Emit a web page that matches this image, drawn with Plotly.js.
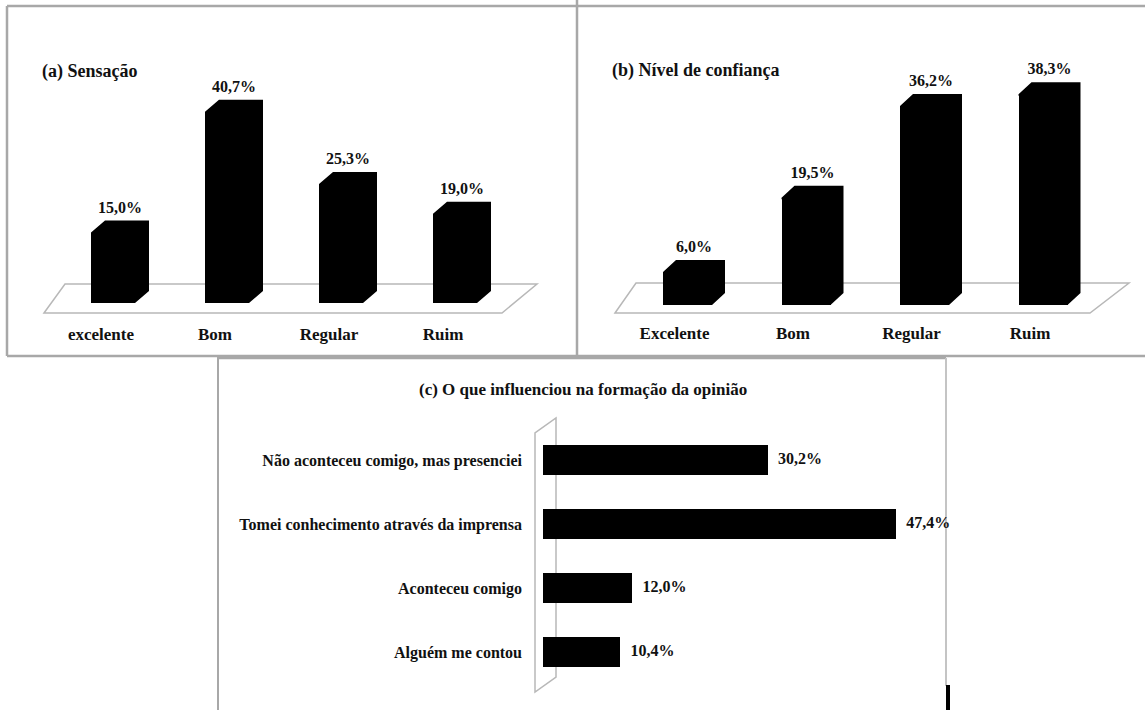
<!DOCTYPE html>
<html>
<head>
<meta charset="utf-8">
<script src="https://cdn.plot.ly/plotly-3.0.1.min.js"></script>
<style>
  html, body { margin: 0; padding: 0; background: #fff; }
  #chart { width: 1145px; height: 710px; }
</style>
</head>
<body>
<div id="chart"></div>
<script>
// ---------------- data ----------------
const titleA = '(a) Sensação';
const catsA = ['excelente', 'Bom', 'Regular', 'Ruim'];
const valsA = [15.0, 40.7, 25.3, 19.0];

const titleB = '(b) Nível de confiança';
const catsB = ['Excelente', 'Bom', 'Regular', 'Ruim'];
const valsB = [6.0, 19.5, 36.2, 38.3];

const titleC = '(c) O que influenciou na formação da opinião';
const catsC = ['Não aconteceu comigo, mas presenciei',
               'Tomei conhecimento através da imprensa',
               'Aconteceu comigo',
               'Alguém me contou'];
const valsC = [30.2, 47.4, 12.0, 10.4];

// ---------------- helpers ----------------
const W = 1145, H = 710;
const px = x => x / W;
const py = y => 1 - y / H;
const fmt = v => v.toFixed(1).replace('.', ',') + '%';
const FONT = 'Liberation Serif';
const idx = arr => arr.map((_, i) => i);

// geometry of each panel (pixels)
const G = {
  a: { x0: 56, x1: 512, base: 303, pxPer: 4.7, ymax: 45, w: 44, dx: 14, dy: 12, labShift: -12, standoff: 19 },
  b: { x0: 628.25, x1: 1102.25, base: 305, pxPer: 5.5, ymax: 45, w: 49, dx: 13, dy: 12, labShift: -13, standoff: 16 },
};
function setup(g) {
  g.unit = (g.x1 - g.x0) / 4;
  g.top = g.base - g.ymax * g.pxPer;
  g.wu = g.w / g.unit;
  g.dxu = g.dx / g.unit;
  g.dyu = g.dy / g.pxPer;
  g.ovx = 1.5 / g.unit;   // 1.5 px overlap to hide seams
  g.ovy = 1.5 / g.pxPer;
  return g;
}
setup(G.a); setup(G.b);

// 3D extrusion (top + side faces) derived from bar values
function extrude(vals, g) {
  const xs = [], ys = [];
  vals.forEach((v, i) => {
    const l = i - g.wu / 2, r = i + g.wu / 2;
    xs.push(r - g.ovx, r, r + g.dxu, r + g.dxu, l + g.dxu, l, l, r - g.ovx, null);
    ys.push(0, 0, g.dyu, v + g.dyu, v + g.dyu, v, v - g.ovy, v - g.ovy, null);
  });
  return { xs, ys };
}

function verticalTraces(cats, vals, g, xa, ya) {
  const e = extrude(vals, g);
  return [
    { type: 'bar', x: idx(vals), y: vals, width: g.wu, marker: { color: '#000', line: { width: 0 } },
      xaxis: xa, yaxis: ya, showlegend: false, hoverinfo: 'skip' },
    { type: 'scatter', mode: 'lines', x: e.xs, y: e.ys, fill: 'toself',
      fillcolor: '#000', line: { width: 0, color: '#000' }, xaxis: xa, yaxis: ya,
      hoverinfo: 'skip', showlegend: false },
    { type: 'scatter', mode: 'text', x: idx(vals).map(i => i + g.dxu / 2),
      y: vals.map(v => v + g.dyu + 4 / g.pxPer), text: vals.map(fmt),
      textposition: 'top center', textfont: { family: FONT, size: 16, color: '#111', weight: 'bold' },
      cliponaxis: false, xaxis: xa, yaxis: ya, showlegend: false, hoverinfo: 'skip' }
  ];
}

function vxAxis(cats, g) {
  return {
    domain: [px(g.x0), px(g.x1)], range: [-0.5, 3.5],
    showgrid: false, zeroline: false, showline: false, ticks: '',
    tickvals: idx(cats).map(i => i + g.labShift / g.unit), ticktext: cats,
    tickfont: { family: FONT, size: 17, color: '#111', weight: 'bold' },
    ticklabelstandoff: g.standoff, fixedrange: true
  };
}
function vyAxis(g) {
  return {
    domain: [py(g.base), py(g.top)], range: [0, g.ymax], visible: false, fixedrange: true
  };
}

// panel C geometry
const C = { x0: 543, pxPer: 7.45, xmax: 50, yTop: 428, yBot: 684, w: 0.47, gap: 10 };

const traces = [
  ...verticalTraces(catsA, valsA, G.a, 'x', 'y'),
  ...verticalTraces(catsB, valsB, G.b, 'x2', 'y2'),
  { type: 'bar', orientation: 'h', y: idx(valsC), x: valsC, width: C.w,
    marker: { color: '#000', line: { width: 0 } }, xaxis: 'x3', yaxis: 'y3',
    showlegend: false, hoverinfo: 'skip' },
  { type: 'scatter', mode: 'text', y: idx(valsC), x: valsC.map(v => v + C.gap / C.pxPer),
    text: valsC.map(fmt), textposition: 'middle right',
    textfont: { family: FONT, size: 16, color: '#111', weight: 'bold' },
    cliponaxis: false, xaxis: 'x3', yaxis: 'y3', showlegend: false, hoverinfo: 'skip' }
];

// decorative shapes (pixel geometry converted to paper)
const grey = '#a8a8a8';
function line(x0, y0, x1, y1, color, width) {
  return { type: 'line', xref: 'paper', yref: 'paper', x0: px(x0), y0: py(y0), x1: px(x1), y1: py(y1),
           line: { color: color, width: width }, layer: 'below' };
}
function poly(pts, fill, color, width) {
  const d = pts.map((p, i) => (i ? 'L' : 'M') + px(p[0]) + ',' + py(p[1])).join(' ') + ' Z';
  return { type: 'path', xref: 'paper', yref: 'paper', path: d, fillcolor: fill,
           line: { color: color, width: width }, layer: 'below' };
}

const shapes = [
  line(7, 6, 1145, 6, grey, 2.5),
  line(7, 6, 7, 356, grey, 2.5),
  line(577, 0, 577, 356, grey, 2.5),
  line(7, 356, 1145, 356, grey, 2.5),
  line(218, 357, 218, 710, grey, 2),
  line(218, 358, 946, 358, grey, 2.5),
  line(946, 358, 946, 686, '#c4c4c4', 2),
  line(948, 685, 948, 710, '#000', 4),
  // floors
  poly([[44, 313], [65, 284], [537, 284], [502, 313]], '#fff', '#b8b8b8', 1.5),
  poly([[615, 313], [636, 283], [1129, 283], [1090, 313]], '#fff', '#b8b8b8', 1.5),
  // wall of panel c
  poly([[535, 692], [535, 433], [556, 418], [556, 677]], '#fff', '#b8b8b8', 1.5)
];

const annotations = [
  { text: titleA, xref: 'paper', yref: 'paper', x: px(40), y: py(72), xanchor: 'left', yanchor: 'middle',
    showarrow: false, font: { family: FONT, size: 18, color: '#111', weight: 'bold' } },
  { text: titleB, xref: 'paper', yref: 'paper', x: px(610), y: py(71), xanchor: 'left', yanchor: 'middle',
    showarrow: false, font: { family: FONT, size: 18, color: '#111', weight: 'bold' } },
  { text: titleC, xref: 'paper', yref: 'paper', x: px(583), y: py(389), xanchor: 'center', yanchor: 'middle',
    showarrow: false, font: { family: FONT, size: 17, color: '#111', weight: 'bold' } }
];

const layout = {
  width: W, height: H, margin: { l: 0, r: 0, t: 0, b: 0 },
  paper_bgcolor: '#fff', plot_bgcolor: 'rgba(0,0,0,0)',
  showlegend: false, bargap: 0,
  font: { family: FONT, color: '#111' },
  xaxis: Object.assign(vxAxis(catsA, G.a), { anchor: 'y' }),
  yaxis: Object.assign(vyAxis(G.a), { anchor: 'x' }),
  xaxis2: Object.assign(vxAxis(catsB, G.b), { anchor: 'y2' }),
  yaxis2: Object.assign(vyAxis(G.b), { anchor: 'x2' }),
  xaxis3: { domain: [px(C.x0), px(C.x0 + C.xmax * C.pxPer)], range: [0, C.xmax], visible: false,
            anchor: 'y3', fixedrange: true },
  yaxis3: { domain: [py(C.yBot), py(C.yTop)], range: [3.5, -0.5], anchor: 'x3',
            showgrid: false, zeroline: false, showline: false, ticks: '',
            tickvals: idx(catsC), ticktext: catsC, ticklabelstandoff: 20,
            tickfont: { family: FONT, size: 16, color: '#111', weight: 'bold' }, fixedrange: true },
  shapes: shapes,
  annotations: annotations
};

Plotly.newPlot('chart', traces, layout, { displayModeBar: false, staticPlot: true });
</script>
</body>
</html>
